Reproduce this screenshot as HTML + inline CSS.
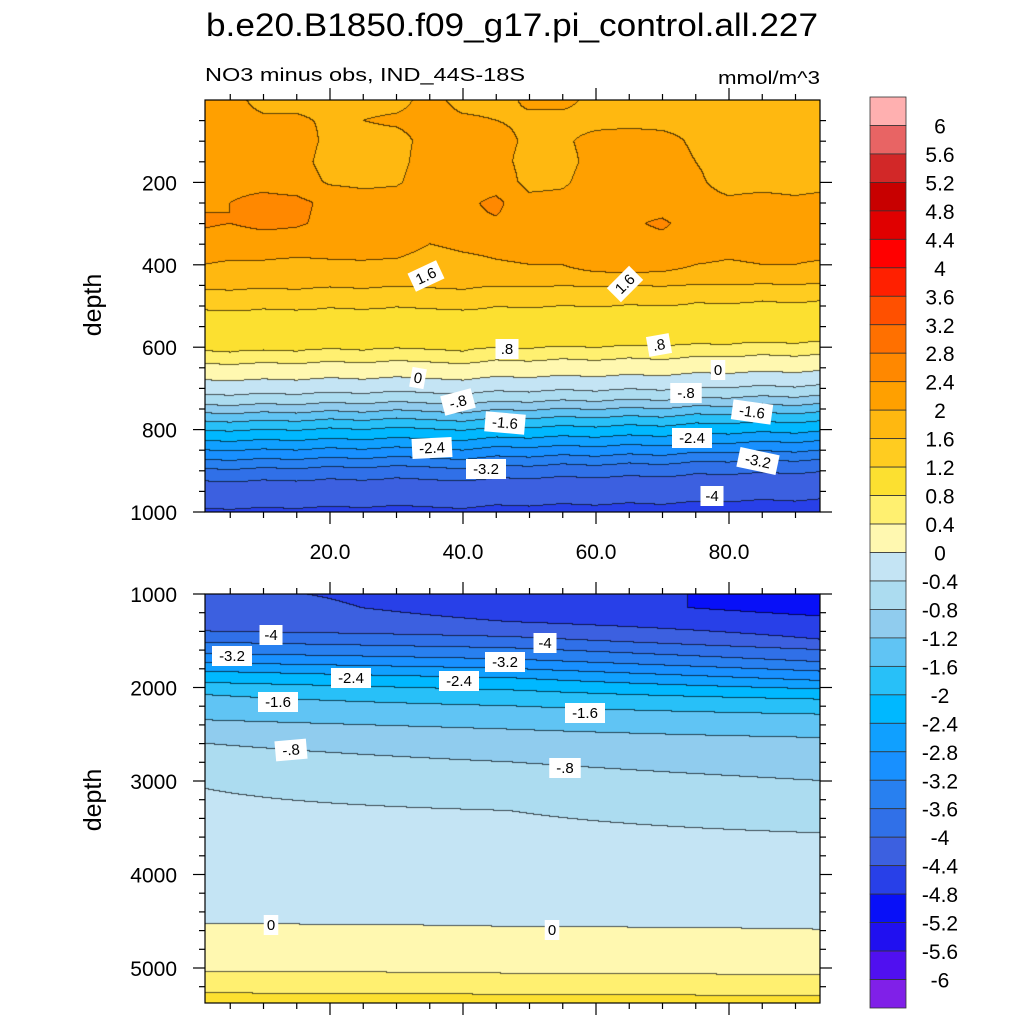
<!DOCTYPE html>
<html><head><meta charset="utf-8"><style>
html,body{margin:0;padding:0;background:#fff;}
#wrap{position:relative;width:1024px;height:1024px;overflow:hidden;font-family:"Liberation Sans",sans-serif;}
canvas{position:absolute;}
svg{position:absolute;left:0;top:0;}
</style></head><body>
<div id="wrap">
<canvas id="ctop" width="615" height="412" style="left:205px;top:100px"></canvas>
<canvas id="cbot" width="615" height="409" style="left:205px;top:594px"></canvas>
<svg id="ov" width="1024" height="1024"></svg>
</div>
<script>
// ---- data ----
const levelColors=["#8020e8","#5010f0","#2010f0","#0810f8","#2840e8","#3c60e0","#3070e8","#2880f0","#1890ff","#10a0ff","#00b8ff","#28c0f8","#60c4f4","#90ccee","#acdcf0","#c4e4f4","#fff8b0","#fff070","#fce030","#ffcc20","#ffb810","#ffa000","#ff8800","#ff7000","#ff5000","#ff2000","#ff0000","#e00000","#c80000","#d22828","#e86464","#ffb0b0"];
const colorbarLabels=["6","5.6","5.2","4.8","4.4","4","3.6","3.2","2.8","2.4","2","1.6","1.2","0.8","0.4","0","-0.4","-0.8","-1.2","-1.6","-2","-2.4","-2.8","-3.2","-3.6","-4","-4.4","-4.8","-5.2","-5.6","-6"];
const topCols=[1,5,10,15,20,25,30,35,40,45,50,55,60,65,70,75,80,85,90,94];
const topUpperDepths=[0,50,100,150,200,250,300,350,400];
const topUpperValues=[
[2.1,2.1,1.9,1.9,1.9,1.9,1.9,2.1,1.9,1.9,2.05,2.1,1.9,1.9,1.9,1.9,1.9,1.85,1.9,1.9],
[2.1,2.1,2.05,2.05,1.95,2.0,2.05,2.1,2.05,2.0,1.95,1.9,1.9,1.9,1.9,1.9,1.85,1.85,1.9,1.9],
[2.2,2.2,2.2,2.2,1.9,1.9,1.9,2.1,2.15,2.1,1.95,1.95,2.1,2.15,2.1,1.95,1.9,1.9,1.95,1.9],
[2.2,2.25,2.2,2.15,1.85,1.85,1.9,2.15,2.1,2.1,1.9,1.9,2.1,2.2,2.15,2.0,1.9,1.9,1.9,1.9],
[2.3,2.3,2.3,2.2,1.95,1.9,1.95,2.2,2.15,2.2,1.9,1.95,2.15,2.2,2.15,2.05,1.9,1.9,1.9,1.9],
[2.35,2.4,2.5,2.5,2.3,2.2,2.2,2.3,2.3,2.5,2.1,2.1,2.2,2.3,2.25,2.1,2.05,2.1,2.05,2.1],
[2.45,2.4,2.5,2.45,2.3,2.25,2.25,2.3,2.3,2.35,2.2,2.2,2.25,2.35,2.45,2.25,2.2,2.25,2.2,2.25],
[2.25,2.2,2.2,2.2,2.15,2.2,2.25,2.0,2.1,2.15,2.2,2.15,2.25,2.3,2.3,2.25,2.15,2.2,2.15,2.2],
[2.0,1.95,1.95,1.9,1.95,1.95,1.9,1.75,1.85,1.95,2.0,2.0,2.1,2.15,2.1,2.0,1.95,2.0,2.0,1.95]];
const topProfileDepths=[400,455,505,560,605,635,675,710,735,755,775,797,822,845,868,890,920,960,1000];
const topProfileValues=[1.9,1.6,1.2,1.0,0.8,0.4,0.0,-0.4,-0.8,-1.2,-1.6,-2.0,-2.4,-2.8,-3.2,-3.6,-4.0,-4.3,-4.45];
const topShift=[-5,-8,-3,-6,0,-4,2,-2,-6,3,0,6,2,8,4,12,10,16,12,18];
const botCols=[1,47,94];
const botDepthsLeft=[1000,1400,1520,1640,1740,1830,1950,2080,2350,2600,3080,4530,5040,5270,5400];
const botValsLeft=[-4.3,-4.0,-3.6,-3.2,-2.8,-2.4,-2.0,-1.6,-1.2,-0.8,-0.4,0,0.4,0.8,1.0];
const botDepthsMid=[1000,1150,1300,1460,1580,1700,1800,1900,2030,2200,2450,2800,3320,4560,5060,5285,5400];
const botValsMid=[-4.6,-4.6,-4.4,-4.0,-3.6,-3.2,-2.8,-2.4,-2.0,-1.6,-1.2,-0.8,-0.4,0,0.4,0.8,1.0];
const botDepthsRight=[1000,1150,1300,1490,1600,1730,1830,1930,2020,2130,2290,2540,3000,3560,4590,5080,5300,5400];
const botValsRight=[-4.95,-4.95,-4.7,-4.4,-4.0,-3.6,-3.2,-2.8,-2.4,-2.0,-1.6,-1.2,-0.8,-0.4,0,0.4,0.8,1.0];
const topYTicks=[200,400,600,800,1000];
const botYTicks=[1000,2000,3000,4000,5000];
const xTicks=[20,40,60,80];
const xTickLabels=["20.0","40.0","60.0","80.0"];

// ---- scales ----
const X0=205,X1=820;
const xs=x=>197+x*6.65;
const xinv=px=>(px-197)/6.65;
const ysTop=d=>100+d*0.412;
const ysBot=d=>594+(d-1000)*0.0935;

function interp1(ds,vs,d){
  if(d<=ds[0])return vs[0];
  for(let i=1;i<ds.length;i++){if(d<=ds[i]){const t=(d-ds[i-1])/(ds[i]-ds[i-1]);return vs[i-1]+t*(vs[i]-vs[i-1]);}}
  return vs[vs.length-1];
}
function colIndex(cols,x){
  if(x<=cols[0])return [0,0];
  for(let i=1;i<cols.length;i++){if(x<=cols[i])return [i-1,(x-cols[i-1])/(cols[i]-cols[i-1])];}
  return [cols.length-2,1];
}
function topVal(x,d){
  const [c,t]=colIndex(topCols,x);
  const f=ci=>{
    if(d<=400){return interp1(topUpperDepths,topUpperValues.map(r=>r[ci]),d);}
    const base400=topUpperValues[8][ci];
    const pv=interp1(topProfileDepths,topProfileValues,d+topShift[ci]);
    if(d<455){const w=(d-400)/55;return base400*(1-w)+pv*w;}
    return pv;
  };
  return f(c)*(1-t)+f(c+1)*t;
}
function botVal(x,d){
  const l=interp1(botDepthsLeft,botValsLeft,d),m=interp1(botDepthsMid,botValsMid,d),r=interp1(botDepthsRight,botValsRight,d);
  if(x<=47){const t=(x-1)/46;return l*(1-t)+m*t;}
  const t=(x-47)/47;return m*(1-t)+r*t;
}
function lvl(v){let i=Math.floor(v/0.4+1e-9)+16;return Math.max(0,Math.min(31,i));}
function hex(c){return [parseInt(c.substr(1,2),16),parseInt(c.substr(3,2),16),parseInt(c.substr(5,2),16)];}
const rgb=levelColors.map(hex);
function draw(id,W,H,top,yinv,fn){
  const cv=document.getElementById(id),ctx=cv.getContext('2d');
  const img=ctx.createImageData(W,H);const idx=new Int8Array(W*H);
  for(let j=0;j<H;j++){const d=yinv(top+j+0.5);for(let i=0;i<W;i++){idx[j*W+i]=lvl(fn(xinv(X0+i+0.5),d));}}
  for(let j=0;j<H;j++)for(let i=0;i<W;i++){
    const k=j*W+i;let c=rgb[idx[k]];
    const edge=(i<W-1&&idx[k]!==idx[k+1])||(j<H-1&&idx[k]!==idx[k+W]);
    const p=k*4;
    if(edge){img.data[p]=c[0]*0.35;img.data[p+1]=c[1]*0.35;img.data[p+2]=c[2]*0.35;}
    else{img.data[p]=c[0];img.data[p+1]=c[1];img.data[p+2]=c[2];}
    img.data[p+3]=255;
  }
  ctx.putImageData(img,0,0);
}
draw('ctop',615,412,100,y=>(y-100)/0.412,topVal);
draw('cbot',615,409,594,y=>(y-594)/0.0935+1000,botVal);

// ---- overlay ----
const NS="http://www.w3.org/2000/svg";
const ov=document.getElementById('ov');
function el(tag,attrs,txt){const e=document.createElementNS(NS,tag);for(const k in attrs)e.setAttribute(k,attrs[k]);if(txt!==undefined)e.textContent=txt;ov.appendChild(e);return e;}
function line(x1,y1,x2,y2,name){const e=el('line',{x1,y1,x2,y2,stroke:'#000','stroke-width':1.2});

return e;}
function txt(x,y,s,size,anchor,name,extra){const a=Object.assign({x,y,'font-size':size,'text-anchor':anchor||'middle','font-family':'Liberation Sans, sans-serif',fill:'#000'},extra||{});const e=el('text',a,s);

return e;}

[[100,512],[594,1003]].forEach(([t,b],pi)=>{
  const r=el('rect',{x:X0,y:t,width:X1-X0,height:b-t,fill:'none',stroke:'#000','stroke-width':1.2});
  
  
  for(let x=5;x<=90;x+=5){const px=xs(x);const maj=x%20===0;const L=maj?12:6;
    line(px,t,px,t-L,'x-tick-top');line(px,b,px,b+L,'x-tick-bottom');}
});
for(let d=50;d<=1000;d+=50){const y=ysTop(d);const maj=d%200===0;const L=maj?12:6;line(X0,y,X0-L,y,'y-tick-left');line(X1,y,X1+L,y,'y-tick-right');}
for(let d=1200;d<=5300;d+=200){const y=ysBot(d);const maj=d%1000===0;const L=maj?12:6;line(X0,y,X0-L,y,'y-tick-left');line(X1,y,X1+L,y,'y-tick-right');}
line(X0,ysBot(1000),X0-12,ysBot(1000),'y-tick-left');line(X1,ysBot(1000),X1+12,ysBot(1000),'y-tick-right');
topYTicks.forEach(d=>txt(177,ysTop(d)+8,String(d),21,'end','y-tick-label-upper'));
botYTicks.forEach(d=>txt(177,ysBot(d)+8,String(d),21,'end','y-tick-label-lower'));
xTicks.forEach((x,i)=>txt(xs(x),559,xTickLabels[i],21,'middle','x-tick-label'));
txt(101,305,'depth',25,'middle','y-axis-title-upper',{transform:'rotate(-90 101 305)'});
txt(101,800,'depth',25,'middle','y-axis-title-lower',{transform:'rotate(-90 101 800)'});
txt(512,36,'b.e20.B1850.f09_g17.pi_control.all.227',32,'middle','chart-title',{textLength:612,lengthAdjust:'spacingAndGlyphs'});
txt(205,81,'NO3 minus obs, IND_44S-18S',18,'start','subtitle',{textLength:320,lengthAdjust:'spacingAndGlyphs'});
txt(820,84,'mmol/m^3',18,'end','units-label',{textLength:102,lengthAdjust:'spacingAndGlyphs'});

const CB0=97,CB1=1008,bh=(CB1-CB0)/32;
for(let k=0;k<32;k++){const li=31-k;const r=el('rect',{x:870,y:CB0+k*bh,width:36,height:bh,fill:levelColors[li],stroke:'#333','stroke-width':0.8});

}
colorbarLabels.forEach((s,k)=>txt(940,CB0+(k+1)*bh+8,s,21,'middle','colorbar-label'));

const clabels=[
['1.6',426,276,-25],['1.6',625,284,-45],['.8',507,349,0],['.8',659,345,-10],['0',418,378,10],['0',718,370,0],
['-.8',458,402,-15],['-.8',686,393,0],['-1.6',505,423,5],['-1.6',752,412,8],['-2.4',432,448,-3],['-2.4',692,438,0],
['-3.2',486,469,0],['-3.2',758,461,12],['-4',712,496,0],
['-4',271,635,0],['-4',545,643,0],['-3.2',232,656,0],['-3.2',505,662,0],['-2.4',351,678,0],['-2.4',459,681,0],
['-1.6',278,702,0],['-1.6',585,713,0],['-.8',291,750,-5],['-.8',565,768,0],['0',271,925,0],['0',552,930,0]];
clabels.forEach(([s,x,y,a])=>{
  const w=s.length*8.5+6;
  const g=el('g',{transform:`rotate(${a} ${x} ${y})`});
  
  
  const r=document.createElementNS(NS,'rect');
  r.setAttribute('x',x-w/2);r.setAttribute('y',y-10);r.setAttribute('width',w);r.setAttribute('height',20);r.setAttribute('fill','#fff');
  g.appendChild(r);
  const t=document.createElementNS(NS,'text');
  t.setAttribute('x',x);t.setAttribute('y',y+5);t.setAttribute('font-size',15);t.setAttribute('text-anchor','middle');t.setAttribute('font-family','Liberation Sans, sans-serif');
  t.textContent=s;g.appendChild(t);
});
</script>
</body></html>
